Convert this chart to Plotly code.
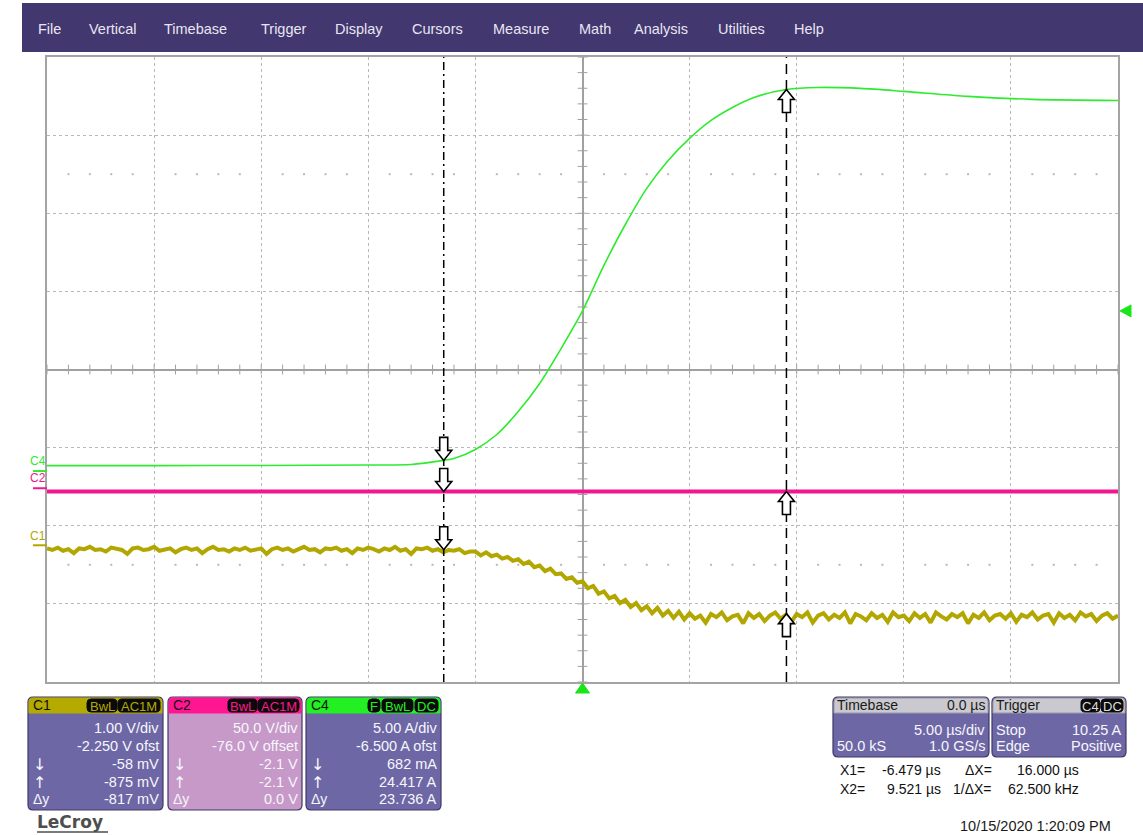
import plotly.graph_objects as go

# ---------------- data ----------------
# C1 (olive), sampled every 0.25 us starting at -25 us, volts
c1_t0 = -25.0
c1_dt = 0.25
c1_volts = [
    -0.04, -0.06, -0.03, -0.07, -0.05, -0.10, -0.04, -0.05, -0.02, -0.06,
    -0.05, -0.08, -0.03, -0.05, -0.06, -0.11, -0.04, -0.03, -0.06, -0.05,
    -0.02, -0.07, -0.05, -0.04, -0.09, -0.05, -0.03, -0.06, -0.04, -0.10,
    -0.05, -0.02, -0.06, -0.05, -0.08, -0.04, -0.06, -0.03, -0.07, -0.05,
    -0.04, -0.11, -0.05, -0.03, -0.06, -0.04, -0.08, -0.05, -0.02, -0.06,
    -0.05, -0.09, -0.04, -0.05, -0.03, -0.07, -0.05, -0.10, -0.04, -0.06,
    -0.03, -0.05, -0.08, -0.04, -0.06, -0.02, -0.07, -0.05, -0.11, -0.04,
    -0.05, -0.03, -0.07, -0.05, -0.09, -0.06, -0.07, -0.05, -0.10, -0.08,
    -0.08, -0.13, -0.09, -0.14, -0.12, -0.17, -0.15, -0.20, -0.18, -0.24,
    -0.21, -0.28, -0.26, -0.33, -0.30, -0.37, -0.36, -0.43, -0.41, -0.48,
    -0.46, -0.55, -0.52, -0.62, -0.59, -0.68, -0.65, -0.74, -0.70, -0.79,
    -0.74, -0.83, -0.78, -0.87, -0.80, -0.90, -0.84, -0.93, -0.85, -0.95,
    -0.87, -0.94, -0.90, -0.99, -0.88, -0.92, -0.86, -0.96, -0.91, -0.89,
    -1.00, -0.87, -0.93, -0.88, -0.97, -0.90, -0.86, -0.94, -0.89, -0.98,
    -0.88, -0.92, -0.86, -0.99, -0.90, -0.87, -0.95, -0.89, -0.93, -0.86,
    -1.00, -0.88, -0.91, -0.96, -0.87, -0.93, -0.89, -0.98, -0.86, -0.92,
    -0.90, -0.97, -0.87, -0.93, -0.88, -0.99, -0.86, -0.91, -0.95, -0.88,
    -0.92, -0.87, -1.00, -0.89, -0.93, -0.86, -0.96, -0.90, -0.88, -0.94,
    -0.87, -0.98, -0.89, -0.92, -0.86, -0.95, -0.90, -0.88, -0.99, -0.87,
    -0.93, -0.89, -0.96, -0.86, -0.91, -0.88, -0.97, -0.90, -0.87, -0.94,
    -0.90,
]
# C2 (magenta), volts
c2_time = [-25.0, 25.0]
c2_volts = [-2.1, -2.1]
# C4 (green), amps
c4_time = [-25, -20, -15, -10, -8, -6.479, -6, -5, -4, -3, -2, -1, 0, 1, 2, 3,
           4, 5, 6, 7, 8, 9.521, 11, 13, 15, 18, 21, 25]
c4_amps = [0.35, 0.35, 0.36, 0.39, 0.42, 0.682, 0.80, 1.38, 2.34, 3.81, 5.60,
           7.84, 10.25, 13.16, 15.78, 18.09, 19.88, 21.29, 22.44, 23.27, 23.91,
           24.417, 24.55, 24.49, 24.30, 23.98, 23.79, 23.72]

chan_names = ["C1", "C2", "C4"]
chan_scale = [1.0, 50.0, 5.0]        # units per division
chan_offset = [-2.25, -76.0, -6.5]   # offsets
timebase_us = 5.0                    # us / div
n_hdiv, n_vdiv = 10, 8
cursor_times = [-6.479, 9.521]
cursor_c1 = [-0.058, -0.875]
cursor_c2 = [-2.1, -2.1]
cursor_c4 = [0.682, 24.417]
trigger_time = 0.0
trigger_level = 10.25

# ---------------- styling / geometry ----------------
W, H = 1143, 835
L, R, T, B = 47, 1118, 57, 682
PW, PH = R - L, B - T
FONT = "Liberation Sans, Arial, sans-serif"
C1_COL, C2_COL, C4_COL = "#B2A600", "#F21690", "#2EEB2E"
C1_HDR, C2_HDR, C4_HDR = "#B5AB00", "#FF1690", "#22F022"
PANEL, C2_BODY, MENU, HDR_GRAY = "#6E67A6", "#C699C9", "#42376F", "#C9C9CF"
PANEL_TXT = "#F6F6FB"
GRID = "#B8B8B8"
AXC = "#A0A0A0"
TRIG = "#19E619"

XR = [-n_hdiv / 2 * timebase_us, n_hdiv / 2 * timebase_us]
YR = [-n_vdiv / 2, n_vdiv / 2]
ch_ranges = [[-n_vdiv / 2 * s - o, n_vdiv / 2 * s - o]
             for s, o in zip(chan_scale, chan_offset)]


def pxp(x):
    return (x - L) / PW


def pyp(y):
    return (B - y) / PH


def P(x, y):
    return f"{pxp(x):.5f},{pyp(y):.5f}"


def rrect_path(x0, y0, x1, y1, r, top=True, bottom=True):
    rt = r if top else 0
    rb = r if bottom else 0
    return " ".join([
        f"M{P(x0 + rt, y0)}", f"L{P(x1 - rt, y0)}", f"Q{P(x1, y0)} {P(x1, y0 + rt)}",
        f"L{P(x1, y1 - rb)}", f"Q{P(x1, y1)} {P(x1 - rb, y1)}",
        f"L{P(x0 + rb, y1)}", f"Q{P(x0, y1)} {P(x0, y1 - rb)}",
        f"L{P(x0, y0 + rt)}", f"Q{P(x0, y0)} {P(x0 + rt, y0)}", "Z"])


shapes = []
annotations = []


def txt(x, y, s, color=PANEL_TXT, size=14, anchor="left", family=FONT):
    annotations.append(dict(xref="paper", yref="paper", x=pxp(x), y=pyp(y), text=s,
                            showarrow=False, xanchor=anchor, yanchor="middle",
                            font=dict(family=family, size=size, color=color)))


def rshape(x0, y0, x1, y1, r, fill, line_col=None, top=True, bottom=True, lw=1):
    shapes.append(dict(type="path", xref="paper", yref="paper",
                       path=rrect_path(x0, y0, x1, y1, r, top, bottom),
                       fillcolor=fill, line=dict(color=line_col or fill, width=lw),
                       layer="above"))


def badge(x0, x1, y0, y1, label, color):
    rshape(x0, y0, x1, y1, 4, "#0A0A0A")
    txt((x0 + x1) / 2, (y0 + y1) / 2 + 0.5, label, color=color, size=13, anchor="center")


# ---------------- figure ----------------
fig = go.Figure()

# grid decorations: center-line ticks and half-division dot rows
tick_x = [XR[0] + i * timebase_us / 5 for i in range(n_hdiv * 5 + 1)]
tick_y = [YR[0] + i * 0.2 for i in range(n_vdiv * 5 + 1)]
fig.add_trace(go.Scatter(x=tick_x, y=[0] * len(tick_x), mode="markers",
                         marker=dict(symbol="line-ns", size=7, line=dict(color=AXC, width=1)),
                         hoverinfo="skip", showlegend=False))
fig.add_trace(go.Scatter(x=[0] * len(tick_y), y=tick_y, mode="markers",
                         marker=dict(symbol="line-ew", size=7, line=dict(color=AXC, width=1)),
                         hoverinfo="skip", showlegend=False))
dot_x, dot_y = [], []
for yy in (2.5, -2.5):
    for xv in tick_x:
        if abs(xv / timebase_us - round(xv / timebase_us)) > 1e-6:
            dot_x.append(xv)
            dot_y.append(yy)
fig.add_trace(go.Scatter(x=dot_x, y=dot_y, mode="markers",
                         marker=dict(symbol="square", size=2, color=GRID),
                         hoverinfo="skip", showlegend=False))

# channel traces
fig.add_trace(go.Scatter(x0=c1_t0, dx=c1_dt, y=c1_volts, yaxis="y2", mode="lines",
                         line=dict(color=C1_COL, width=4), hoverinfo="skip", showlegend=False))
fig.add_trace(go.Scatter(x=c2_time, y=c2_volts, yaxis="y3", mode="lines",
                         line=dict(color=C2_COL, width=4), hoverinfo="skip", showlegend=False))
fig.add_trace(go.Scatter(x=c4_time, y=c4_amps, yaxis="y4", mode="lines",
                         line=dict(color=C4_COL, width=1.6, shape="spline", smoothing=0.8),
                         hoverinfo="skip", showlegend=False))

# trigger markers (pixel-sized shapes anchored at trigger time / trigger level)
shapes.append(dict(type="path", xref="x", yref="paper", xsizemode="pixel", ysizemode="pixel",
                   xanchor=trigger_time, yanchor=0, path="M -7,-11 L 7,-11 L 0,-1 Z",
                   fillcolor=TRIG, line=dict(color=TRIG, width=1), layer="above"))
shapes.append(dict(type="path", xref="paper", yref="y4", xsizemode="pixel", ysizemode="pixel",
                   xanchor=1, yanchor=trigger_level, path="M 2,0 L 13,6 L 13,-6 Z",
                   fillcolor=TRIG, line=dict(color=TRIG, width=1), layer="above"))

# cursors
shapes.append(dict(type="line", xref="x", yref="paper", x0=cursor_times[0], x1=cursor_times[0],
                   y0=0, y1=1, line=dict(color="black", width=1.5, dash="8px,4px,2px,4px"),
                   layer="above"))
shapes.append(dict(type="line", xref="x", yref="paper", x0=cursor_times[1], x1=cursor_times[1],
                   y0=0, y1=1, line=dict(color="black", width=1.5, dash="10px,6px"),
                   layer="above"))


def arrow(xv, yv, yref, down):
    s = 1 if down else -1
    pts = [(0, 0), (-8, 10), (-4, 10), (-4, 23), (4, 23), (4, 10), (8, 10)]
    path = "M " + " L ".join(f"{x},{s * y}" for x, y in pts) + " Z"
    return dict(type="path", xref="x", yref=yref, xsizemode="pixel", ysizemode="pixel",
                xanchor=xv, yanchor=yv, path=path, fillcolor="white",
                line=dict(color="black", width=1.6), layer="above")


for i, down in enumerate([True, False]):
    shapes.append(arrow(cursor_times[i], cursor_c4[i], "y4", down))
    shapes.append(arrow(cursor_times[i], cursor_c2[i], "y3", down))
    shapes.append(arrow(cursor_times[i], cursor_c1[i], "y2", down))

# channel ground markers and labels at the left
for name, yref, col, dy in [("C4", "y4", C4_COL, 10), ("C2", "y3", C2_COL, 10),
                            ("C1", "y2", C1_COL, 9)]:
    shapes.append(dict(type="line", xref="paper", yref=yref, x0=pxp(33), x1=pxp(47),
                       y0=0, y1=0, line=dict(color=col, width=2), layer="above"))
    annotations.append(dict(xref="paper", yref=yref, x=pxp(28), y=0, yshift=dy, text=name,
                            showarrow=False, xanchor="left", yanchor="middle",
                            font=dict(family=FONT, size=12, color=col)))

# menu bar
shapes.append(dict(type="rect", xref="paper", yref="paper", x0=pxp(22), x1=pxp(1143),
                   y0=pyp(52), y1=pyp(3), fillcolor=MENU, line=dict(width=0), layer="above"))
menu_items = ["File", "Vertical", "Timebase", "Trigger", "Display", "Cursors", "Measure",
              "Math", "Analysis", "Utilities", "Help"]
menu_x = [36, 87, 162, 259, 333, 410, 491, 577, 632, 716, 792]
for m, xm in zip(menu_items, menu_x):
    txt(xm, 29, m, color="#E8E6F2", size=14.5)

# channel panels
panels = [
    dict(x0=28, x1=163, hdr=C1_HDR, body=PANEL, name="C1",
         badges=[(87, 117, "BwL"), (118, 160, "AC1M")],
         lines=["1.00 V/div", "-2.250 V ofst", "-58 mV", "-875 mV", "-817 mV"]),
    dict(x0=168, x1=302, hdr=C2_HDR, body=C2_BODY, name="C2",
         badges=[(228, 257, "BwL"), (258, 299, "AC1M")],
         lines=["50.0 V/div", "-76.0 V offset", "-2.1 V", "-2.1 V", "0.0 V"]),
    dict(x0=306, x1=441, hdr=C4_HDR, body=PANEL, name="C4",
         badges=[(368, 380, "F"), (382, 413, "BwL"), (415, 438, "DC")],
         lines=["5.00 A/div", "-6.500 A ofst", "682 mA", "24.417 A", "23.736 A"]),
]
line_y = [728, 746, 764, 782, 799]
for p in panels:
    rshape(p["x0"], 697, p["x1"], 810, 5, p["body"], "#3E3868", lw=1.2)
    rshape(p["x0"] + 1, 698, p["x1"] - 1, 713, 4, p["hdr"], top=True, bottom=False)
    txt(p["x0"] + 3, 705, p["name"], color="#101010", size=14)
    for bx0, bx1, lab in p["badges"]:
        badge(bx0, bx1, 699, 712, lab, p["hdr"])
    for yy, s in zip(line_y, p["lines"]):
        txt(p["x1"] - 2, yy, s, size=14.5, anchor="right")
    txt(p["x0"] + 3, line_y[2], "↓", size=16, family="DejaVu Sans, sans-serif")
    txt(p["x0"] + 3, line_y[3], "↑", size=16, family="DejaVu Sans, sans-serif")
    txt(p["x0"] + 3, line_y[4], "Δy", size=14)

# timebase and trigger panels
for x0, x1 in [(833, 989), (992, 1126)]:
    rshape(x0, 697, x1, 757, 5, PANEL, "#3E3868", lw=1.2)
    rshape(x0 + 1, 698, x1 - 1, 713, 4, HDR_GRAY, "#9A9AA8", top=True, bottom=False)
txt(835, 705, "Timebase", color="#1A1A1A", size=14)
txt(987, 705, "0.0 µs", color="#1A1A1A", size=14, anchor="right")
txt(987, 730, "5.00 µs/div", size=14.5, anchor="right")
txt(835, 746, "50.0 kS", size=14.5)
txt(987, 746, "1.0 GS/s", size=14.5, anchor="right")
txt(994, 705, "Trigger", color="#1A1A1A", size=14)
badge(1081, 1100, 699, 712, "C4", "#DDDDDD")
badge(1101, 1123, 699, 712, "DC", "#DDDDDD")
txt(994, 730, "Stop", size=14.5)
txt(1124, 730, f"{trigger_level:.2f} A", size=14.5, anchor="right")
txt(994, 746, "Edge", size=14.5)
txt(1124, 746, "Positive", size=14.5, anchor="right")

# cursor readouts
dx = cursor_times[1] - cursor_times[0]
txt(838, 770, "X1=", color="#111111", size=14)
txt(943, 770, f"{cursor_times[0]:.3f} µs", color="#111111", size=14, anchor="right")
txt(994, 770, "ΔX=", color="#111111", size=14, anchor="right")
txt(1081, 770, f"{dx:.3f} µs", color="#111111", size=14, anchor="right")
txt(838, 789, "X2=", color="#111111", size=14)
txt(943, 789, f"{cursor_times[1]:.3f} µs", color="#111111", size=14, anchor="right")
txt(994, 789, "1/ΔX=", color="#111111", size=14, anchor="right")
txt(1081, 789, f"{1000.0 / dx:.3f} kHz", color="#111111", size=14, anchor="right")

txt(1113, 826, "10/15/2020 1:20:09 PM", color="#1A1A1A", size=14.5, anchor="right")
txt(35, 822, "<b>LeCroy</b>", color="#4E4E4E", size=17, family="DejaVu Sans, sans-serif")
shapes.append(dict(type="line", xref="paper", yref="paper", x0=pxp(37), x1=pxp(108),
                   y0=pyp(832), y1=pyp(832), line=dict(color="#4E4E4E", width=1.5),
                   layer="above"))

axis_common = dict(showticklabels=False, ticks="", showgrid=True, griddash="dot",
                   gridcolor=GRID, gridwidth=1, zeroline=True, zerolinecolor=AXC,
                   zerolinewidth=1.5, showline=True, mirror=True, linecolor="#A4A4A4",
                   linewidth=2, fixedrange=True)
fig.update_layout(
    width=W, height=H, autosize=False,
    margin=dict(l=L, r=W - R, t=T, b=H - B, pad=0),
    paper_bgcolor="white", plot_bgcolor="white",
    showlegend=False, hovermode=False,
    xaxis=dict(range=XR, dtick=timebase_us, tick0=0, **axis_common),
    yaxis=dict(range=YR, dtick=1, tick0=0, **axis_common),
    yaxis2=dict(range=ch_ranges[0], overlaying="y", visible=False, fixedrange=True),
    yaxis3=dict(range=ch_ranges[1], overlaying="y", visible=False, fixedrange=True),
    yaxis4=dict(range=ch_ranges[2], overlaying="y", visible=False, fixedrange=True),
    shapes=shapes, annotations=annotations,
)

fig.write_html("out.html", config={"displayModeBar": False},
               post_script="document.body.style.margin='0';")
